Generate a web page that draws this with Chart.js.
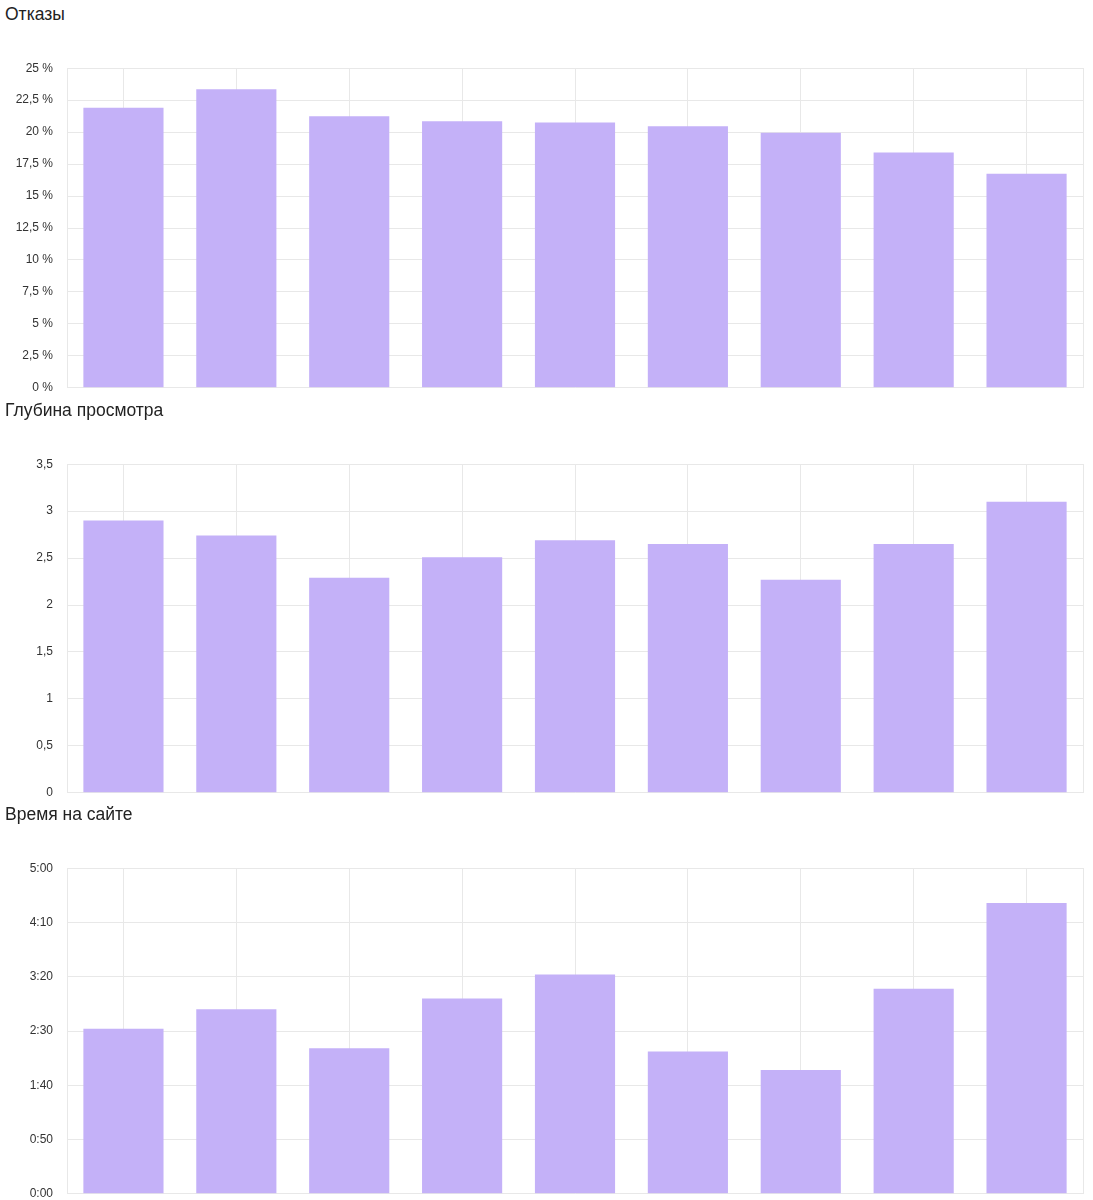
<!DOCTYPE html>
<html>
<head>
<meta charset="utf-8">
<script src="https://cdn.jsdelivr.net/npm/chart.js@4/dist/chart.umd.min.js"></script>
<style>
  html, body { margin: 0; padding: 0; background: #fff; overflow: hidden; }
  body { width: 1093px; height: 1200px; position: relative; font-family: "Liberation Sans", Arial, sans-serif; }
  .title { position: absolute; left: 5px; font-size: 17.5px; line-height: 20px; color: #222; }
  .box { position: absolute; left: 0; width: 1093px; }
</style>
</head>
<body>
<div class="title" style="top:4px">Отказы</div>
<div class="box" style="top:47px;height:362px"><canvas id="c1"></canvas></div>
<div class="title" style="top:400px">Глубина просмотра</div>
<div class="box" style="top:443px;height:371px"><canvas id="c2"></canvas></div>
<div class="title" style="top:804px">Время на сайте</div>
<div class="box" style="top:847px;height:368px"><canvas id="c3"></canvas></div>
<script>
// Categories (x labels are clipped in the reference)
const categories = ["авг 17", "сен 17", "окт 17", "ноя 17", "дек 17", "янв 18", "фев 18", "мар 18", "апр 18"];
// Bounce rate, %
const bounceRate = [21.9, 23.35, 21.25, 20.85, 20.75, 20.45, 19.95, 18.4, 16.75];
// Page depth
const pageDepth = [2.9, 2.74, 2.29, 2.51, 2.69, 2.65, 2.27, 2.65, 3.1];
// Time on site, seconds
const timeOnSite = [152, 170, 134, 180, 202, 131, 114, 189, 268];
// Axis settings
const bounceMax = 25, bounceStep = 2.5;
const depthMax = 3.5, depthStep = 0.5;
const timeMax = 300, timeStep = 50;

const barColor = '#c4b1f8';
const gridColor = '#e8e8e8';

function fmtComma(v) { return String(Math.round(v * 10) / 10).replace('.', ','); }
function fmtTime(v) { const m = Math.floor(v / 60), s = Math.round(v % 60); return m + ':' + (s < 10 ? '0' : '') + s; }

function makeChart(id, data, max, step, fmt, padBottom) {
  return new Chart(document.getElementById(id), {
    type: 'bar',
    data: {
      labels: categories,
      datasets: [{ data: data, backgroundColor: barColor, borderWidth: 0,
                   categoryPercentage: 1, barPercentage: 0.71 }]
    },
    options: {
      responsive: true,
      maintainAspectRatio: false,
      animation: false,
      layout: { padding: { top: 10, bottom: padBottom, left: 0, right: 9 } },
      plugins: { legend: { display: false }, tooltip: { enabled: false } },
      scales: {
        x: {
          grid: { offset: false, color: gridColor, drawTicks: false },
          border: { color: gridColor },
          ticks: { display: false }
        },
        y: {
          min: 0, max: max,
          afterFit: s => { s.width = 67; },
          grid: { color: gridColor, drawTicks: false },
          border: { color: gridColor },
          ticks: { stepSize: step, padding: 14, color: '#333',
                   font: { family: '"Liberation Sans", Arial, sans-serif', size: 12 },
                   callback: v => fmt(v) }
        },
        y2: {
          position: 'right', min: 0, max: max,
          afterFit: s => { s.width = 1; },
          grid: { drawOnChartArea: false, drawTicks: false },
          border: { color: gridColor },
          ticks: { display: false }
        }
      }
    }
  });
}

makeChart('c1', bounceRate, bounceMax, bounceStep, v => fmtComma(v) + ' %', 10);
makeChart('c2', pageDepth, depthMax, depthStep, v => fmtComma(v), 10);
makeChart('c3', timeOnSite, timeMax, timeStep, fmtTime, 7);
</script>
</body>
</html>
